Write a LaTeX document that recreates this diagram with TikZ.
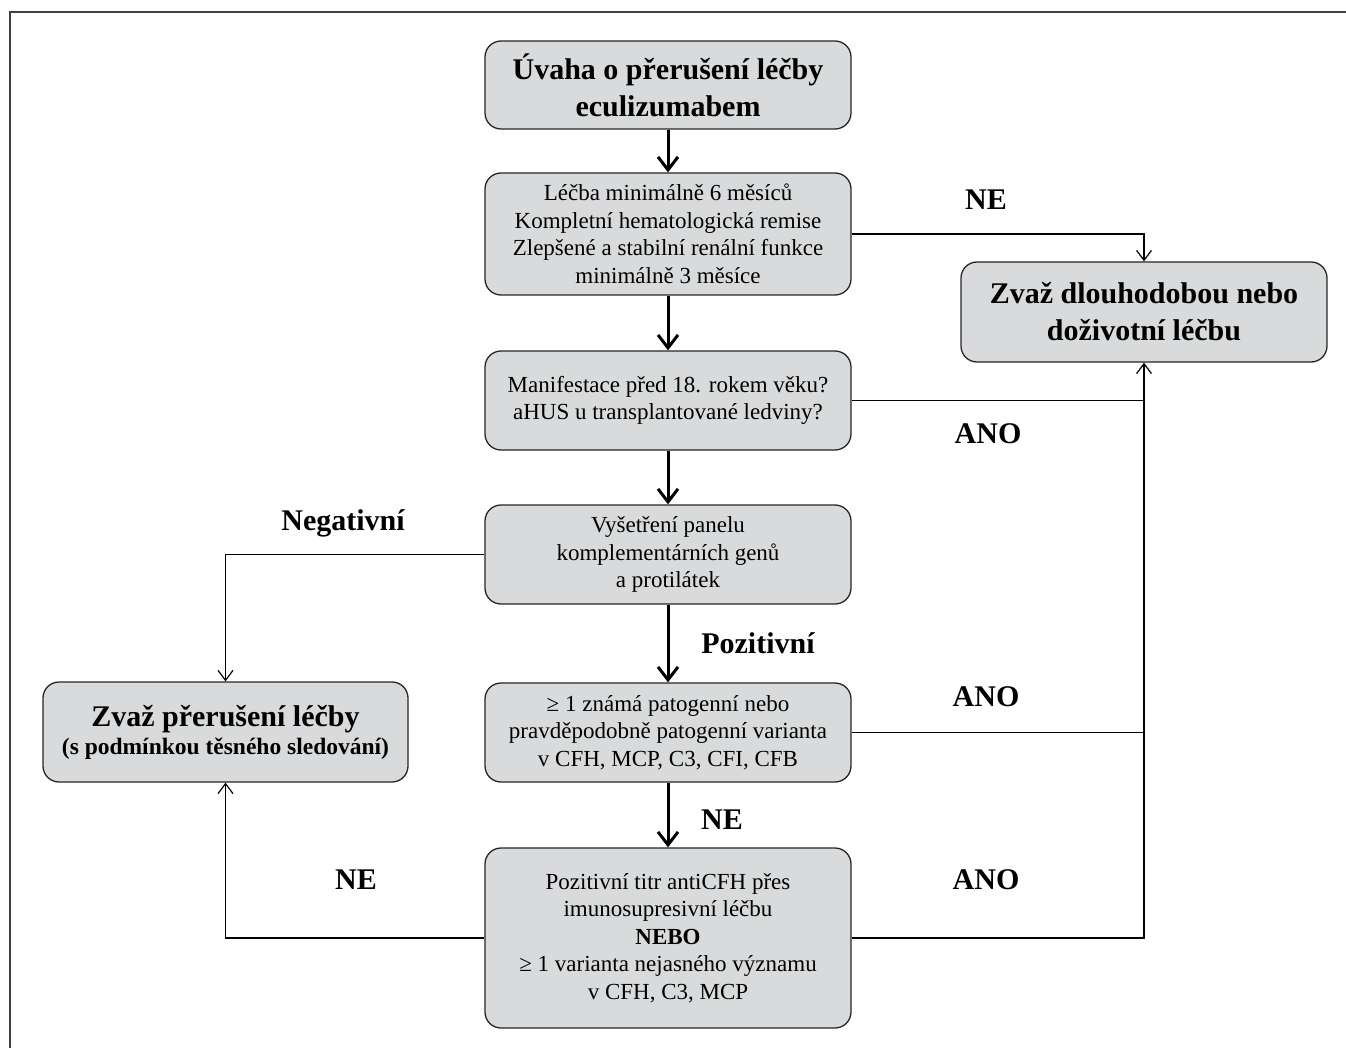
\documentclass[tikz,border=0pt]{standalone}
\usepackage{fontspec}
\setmainfont{Liberation Serif}
\usetikzlibrary{arrows.meta}
\definecolor{boxgray}{RGB}{217,218,219}
\tikzset{
    box/.style={draw=black!85, line width=1.3pt, fill=boxgray, rounded corners=16pt,
        minimum width=366pt, inner sep=0pt, align=center,
        font=\fontsize{23}{27.5}\selectfont},
    headbox/.style={box, font=\fontsize{30}{37}\selectfont\bfseries},
    flow/.style={line width=3pt, -{Straight Barb[length=13pt, width=20pt]}},
    branch/.style={line width=1.2pt, -{Straight Barb[length=10pt, width=15pt]}},
    lbl/.style={font=\fontsize{30}{36}\selectfont\bfseries}
}

\begin{document}
\begin{tikzpicture}[x=1pt, y=-1pt]
        \useasboundingbox (0, 0) rectangle (1346, 1048);
        \draw[line width=1.5pt, black!75] (10, 1048) -- (10, 12) -- (1346, 12);

        \node[headbox, minimum height=88pt] (start) at (668, 85) {Úvaha o přerušení léčby\\eculizumabem};
        \node[box, minimum height=122pt] (crit) at (668, 234) {Léčba minimálně 6 měsíců\\Kompletní hematologická remise\\Zlepšené a stabilní renální funkce\\minimálně 3 měsíce};
        \node[box, minimum height=99pt] (age) at (668, 400.5) {Manifestace před 18. rokem věku?\\aHUS u transplantované ledviny?};
        \node[box, minimum height=99pt] (panel) at (668, 554.5) {Vyšetření panelu\\komplementárních genů\\a protilátek};
        \node[box, minimum height=99pt] (variant) at (668, 732.5) {≥ 1 známá patogenní nebo\\pravděpodobně patogenní varianta\\v CFH, MCP, C3, CFI, CFB};
        \node[box, minimum height=180pt] (titr) at (668, 938) {Pozitivní titr antiCFH přes\\imunosupresivní léčbu\\\textbf{NEBO}\\≥ 1 varianta nejasného významu\\v CFH, C3, MCP};
        \node[headbox, minimum height=100pt] (longterm) at (1144, 312) {Zvaž dlouhodobou nebo\\doživotní léčbu};
        \node[headbox, minimum width=365pt, minimum height=100pt] (stop) at (225.5, 732) {Zvaž přerušení léčby\\[-9pt]{\fontsize{23.5}{28}\selectfont (s podmínkou těsného sledování)}};

        \draw[flow] (start) -- (crit);
        \draw[flow] (crit) -- (age);
        \draw[flow] (age) -- (panel);
        \draw[flow] (panel) -- (variant);
        \draw[flow] (variant) -- (titr);

        \draw[branch] (crit.east) -| (longterm.north);
        \draw[line width=1.2pt] (age.east) -- (age.east -| longterm.south);
        \draw[line width=1.2pt] (variant.east) -- (variant.east -| longterm.south);
        \draw[branch] (titr.east) -| (longterm.south);
        \draw[branch] (panel.west) -| (stop.north);
        \draw[branch] (titr.west) -| (stop.south);

        \node[lbl] (neA) at (986, 200) {NE};
        \node[lbl] (anoA) at (988, 434) {ANO};
        \node[lbl] (neg) at (343, 523) {Negativní};
        \node[lbl] (poz) at (758, 643) {Pozitivní};
        \node[lbl] (anoB) at (986, 697) {ANO};
        \node[lbl] (neB) at (722, 820) {NE};
        \node[lbl] (neC) at (356, 880) {NE};
        \node[lbl] (anoC) at (986, 880) {ANO};
    \end{tikzpicture}
\end{document}
